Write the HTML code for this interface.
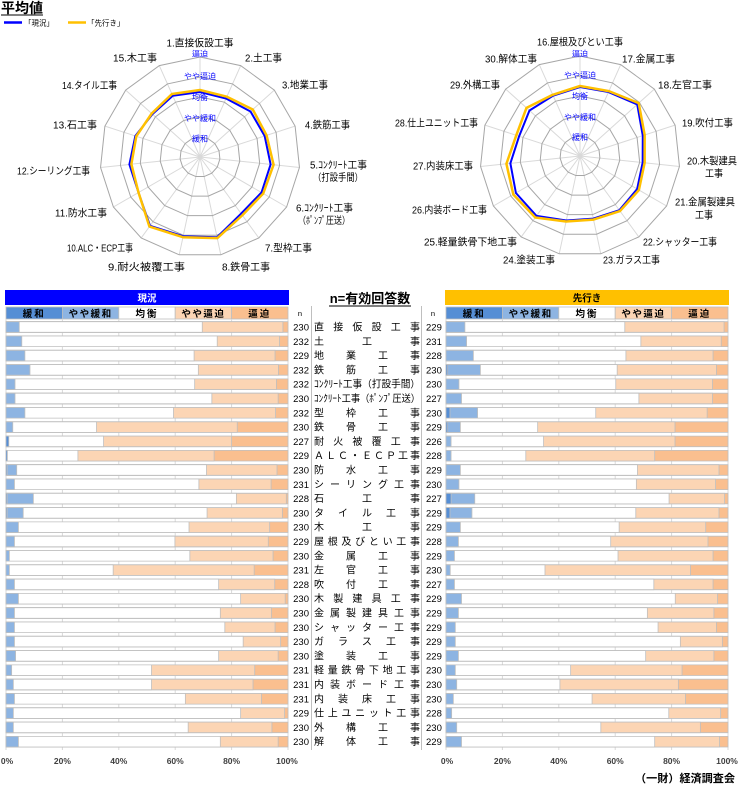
<!DOCTYPE html>
<html><head><meta charset="utf-8"><style>
html,body{margin:0;padding:0;background:#fff;}
svg{display:block;font-family:"Liberation Sans","Noto Sans CJK JP",sans-serif;}
.b rect{stroke:#bfbfbf;stroke-width:0.8;vector-effect:non-scaling-stroke;}
.o{fill:#fabf8f}.lo{fill:#fcd5b4}.w{fill:#fff}.lb{fill:#8db4e2}.dk{fill:#558ed5}
.rl{font-size:10px;fill:#000;}
.gl{font-size:8px;fill:#0000ff;}
.n{font-size:9.5px;fill:#000;}
.lab{font-size:10px;fill:#000;}
.ax{font-size:8.5px;fill:#404040;font-weight:bold;}
.cat{font-size:9.5px;font-weight:bold;fill:#000;}
</style></head><body>
<svg width="740" height="800" viewBox="0 0 740 800" xmlns="http://www.w3.org/2000/svg">
<defs>
<polygon id="ring" points="0,-100 40.67,-91.35 74.31,-66.91 95.11,-30.9 99.45,10.45 86.6,50 58.78,80.9 20.79,97.81 -20.79,97.81 -58.78,80.9 -86.6,50 -99.45,10.45 -95.11,-30.9 -74.31,-66.91 -40.67,-91.35" fill="none" stroke="#a6a6a6" stroke-width="1" vector-effect="non-scaling-stroke"/>
<path id="spk" d="M0,0L0,-100M0,0L40.67,-91.35M0,0L74.31,-66.91M0,0L95.11,-30.9M0,0L99.45,10.45M0,0L86.6,50M0,0L58.78,80.9M0,0L20.79,97.81M0,0L-20.79,97.81M0,0L-58.78,80.9M0,0L-86.6,50M0,0L-99.45,10.45M0,0L-95.11,-30.9M0,0L-74.31,-66.91M0,0L-40.67,-91.35" stroke="#d9d9d9" stroke-width="1" fill="none"/>
</defs>

<!-- title & legend -->
<text x="1" y="13" font-size="14" font-weight="bold" fill="#000">平均値</text>
<line x1="1" y1="15" x2="43" y2="15" stroke="#000" stroke-width="1"/>
<line x1="4" y1="22.5" x2="22" y2="22.5" stroke="#0000ff" stroke-width="2.5"/>
<text x="24" y="25.5" font-size="7.5" fill="#000">「現況」</text>
<line x1="68" y1="22.5" x2="86" y2="22.5" stroke="#ffc000" stroke-width="2.5"/>
<text x="87" y="25.5" font-size="7.5" fill="#000">「先行き」</text>

<!-- left radar -->
<g transform="translate(200,157)">
<use href="#spk"/>
<use href="#ring" transform="scale(0.2)"/><use href="#ring" transform="scale(0.4)"/><use href="#ring" transform="scale(0.6)"/><use href="#ring" transform="scale(0.8)"/><use href="#ring"/>
<text class="gl" x="0" y="-100.5" text-anchor="middle">逼迫</text>
<text class="gl" x="0" y="-78" text-anchor="middle">やや逼迫</text>
<text class="gl" x="0" y="-57" text-anchor="middle">均衡</text>
<text class="gl" x="0" y="-36" text-anchor="middle">やや緩和</text>
<text class="gl" x="0" y="-15.5" text-anchor="middle">緩和</text>
<polygon points="0,-65 26.03,-58.46 50.53,-45.5 64.67,-21.01 70.61,7.42 61.49,35.5 41.15,56.63 17.05,80.2 -16.84,79.23 -49.96,68.77 -61.49,35.5 -70.61,7.42 -64.67,-21.01 -47.56,-42.82 -27.25,-61.2" fill="none" stroke="#0000ff" stroke-width="2" stroke-linejoin="round"/>
<polygon points="0,-67 26.84,-60.29 52.76,-47.51 66.58,-21.63 73.59,7.73 63.22,36.5 42.32,58.25 17.26,81.18 -17.05,80.2 -50.55,69.57 -61.49,35.5 -68.62,7.21 -63.72,-20.7 -48.3,-43.49 -28.06,-63.03" fill="none" stroke="#ffc000" stroke-width="2.5" stroke-linejoin="round"/>
</g>
<text class="rl" x="200" y="46.5" text-anchor="middle" textLength="67" lengthAdjust="spacingAndGlyphs">1.直接仮設工事</text>
<text class="rl" x="245" y="61.5" textLength="37" lengthAdjust="spacingAndGlyphs">2.土工事</text>
<text class="rl" x="157" y="61.5" text-anchor="end" textLength="44" lengthAdjust="spacingAndGlyphs">15.木工事</text>
<text class="rl" x="282" y="88.5" textLength="46" lengthAdjust="spacingAndGlyphs">3.地業工事</text>
<text class="rl" x="117" y="89" text-anchor="end" textLength="55" lengthAdjust="spacingAndGlyphs">14.タイル工事</text>
<text class="rl" x="305" y="128.5" textLength="45" lengthAdjust="spacingAndGlyphs">4.鉄筋工事</text>
<text class="rl" x="97" y="128.5" text-anchor="end" textLength="44" lengthAdjust="spacingAndGlyphs">13.石工事</text>
<text class="rl" x="310" y="168.5" textLength="57" lengthAdjust="spacingAndGlyphs">5.ｺﾝｸﾘｰﾄ工事</text>
<text class="rl" x="313" y="181" textLength="50" lengthAdjust="spacingAndGlyphs">（打設手間）</text>
<text class="rl" x="90" y="174.5" text-anchor="end" textLength="73" lengthAdjust="spacingAndGlyphs">12.シーリング工事</text>
<text class="rl" x="296" y="211.5" textLength="57" lengthAdjust="spacingAndGlyphs">6.ｺﾝｸﾘｰﾄ工事</text>
<text class="rl" x="298" y="224" textLength="52" lengthAdjust="spacingAndGlyphs">（ﾎﾟﾝﾌﾟ圧送）</text>
<text class="rl" x="107" y="216.5" text-anchor="end" textLength="52" lengthAdjust="spacingAndGlyphs">11.防水工事</text>
<text class="rl" x="265" y="251.5" textLength="47" lengthAdjust="spacingAndGlyphs">7.型枠工事</text>
<text class="rl" x="133" y="251.5" text-anchor="end" textLength="66" lengthAdjust="spacingAndGlyphs">10.ALC・ECP工事</text>
<text class="rl" x="222" y="270.5" textLength="48" lengthAdjust="spacingAndGlyphs">8.鉄骨工事</text>
<text class="rl" x="185" y="270.5" text-anchor="end" textLength="77" lengthAdjust="spacingAndGlyphs">9.耐火被覆工事</text>

<!-- right radar -->
<g transform="translate(580,156)">
<use href="#spk"/>
<use href="#ring" transform="scale(0.2)"/><use href="#ring" transform="scale(0.4)"/><use href="#ring" transform="scale(0.6)"/><use href="#ring" transform="scale(0.8)"/><use href="#ring"/>
<text class="gl" x="0" y="-99.5" text-anchor="middle">逼迫</text>
<text class="gl" x="0" y="-78" text-anchor="middle">やや逼迫</text>
<text class="gl" x="0" y="-57" text-anchor="middle">均衡</text>
<text class="gl" x="0" y="-36" text-anchor="middle">やや緩和</text>
<text class="gl" x="0" y="-16" text-anchor="middle">緩和</text>
<polygon points="0,-69 28.47,-63.95 57.22,-51.52 62.77,-20.39 62.65,6.58 57.16,33 39.38,54.2 13.31,62.6 -13.72,64.55 -43.5,59.87 -64.08,37 -69.62,7.32 -60.87,-19.78 -50.53,-45.5 -26.84,-60.29" fill="none" stroke="#0000ff" stroke-width="2" stroke-linejoin="round"/>
<polygon points="0,-70 28.88,-64.86 58.7,-52.86 64.67,-21.01 64.64,6.79 58.89,34 39.97,55.01 13.51,63.58 -13.93,65.53 -44.67,61.48 -66.68,38.5 -73.59,7.73 -63.72,-20.7 -53.5,-48.18 -27.25,-61.2" fill="none" stroke="#ffc000" stroke-width="2.5" stroke-linejoin="round"/>
</g>
<text class="rl" x="580" y="45.5" text-anchor="middle" textLength="86" lengthAdjust="spacingAndGlyphs">16.屋根及びとい工事</text>
<text class="rl" x="622" y="62.5" textLength="53" lengthAdjust="spacingAndGlyphs">17.金属工事</text>
<text class="rl" x="537" y="62.5" text-anchor="end" textLength="52" lengthAdjust="spacingAndGlyphs">30.解体工事</text>
<text class="rl" x="658" y="88.5" textLength="54" lengthAdjust="spacingAndGlyphs">18.左官工事</text>
<text class="rl" x="500" y="88.5" text-anchor="end" textLength="50" lengthAdjust="spacingAndGlyphs">29.外構工事</text>
<text class="rl" x="682" y="126.5" textLength="51" lengthAdjust="spacingAndGlyphs">19.吹付工事</text>
<text class="rl" x="478" y="126.5" text-anchor="end" textLength="83" lengthAdjust="spacingAndGlyphs">28.仕上ユニット工事</text>
<text class="rl" x="687" y="164.5" textLength="50" lengthAdjust="spacingAndGlyphs">20.木製建具</text>
<text class="rl" x="705" y="177" textLength="18" lengthAdjust="spacingAndGlyphs">工事</text>
<text class="rl" x="473" y="169.5" text-anchor="end" textLength="60" lengthAdjust="spacingAndGlyphs">27.内装床工事</text>
<text class="rl" x="675" y="205.5" textLength="60" lengthAdjust="spacingAndGlyphs">21.金属製建具</text>
<text class="rl" x="695" y="218.5" textLength="18" lengthAdjust="spacingAndGlyphs">工事</text>
<text class="rl" x="487" y="213.5" text-anchor="end" textLength="75" lengthAdjust="spacingAndGlyphs">26.内装ボード工事</text>
<text class="rl" x="643" y="245.5" textLength="74" lengthAdjust="spacingAndGlyphs">22.シャッター工事</text>
<text class="rl" x="517" y="245.5" text-anchor="end" textLength="93" lengthAdjust="spacingAndGlyphs">25.軽量鉄骨下地工事</text>
<text class="rl" x="603" y="263.5" textLength="57" lengthAdjust="spacingAndGlyphs">23.ガラス工事</text>
<text class="rl" x="555" y="263.5" text-anchor="end" textLength="52" lengthAdjust="spacingAndGlyphs">24.塗装工事</text>

<!-- bar chart headers -->
<rect x="5" y="290" width="284" height="15" fill="#0000ff"/>
<text x="147" y="301.5" text-anchor="middle" font-size="9.5" font-weight="bold" fill="#fff">現況</text>
<rect x="445" y="290" width="284" height="15" fill="#ffc000"/>
<text x="587" y="301.5" text-anchor="middle" font-size="9.5" font-weight="bold" fill="#000">先行き</text>

<g stroke="#bfbfbf" stroke-width="0.8">
<rect x="6" y="307" width="56.4" height="12" class="dk"/><rect x="62.4" y="307" width="56.4" height="12" class="lb"/><rect x="118.8" y="307" width="56.4" height="12" class="w"/><rect x="175.2" y="307" width="56.4" height="12" class="lo"/><rect x="231.6" y="307" width="56.4" height="12" class="o"/>
<rect x="446" y="307" width="56.4" height="12" class="dk"/><rect x="502.4" y="307" width="56.4" height="12" class="lb"/><rect x="558.8" y="307" width="56.4" height="12" class="w"/><rect x="615.2" y="307" width="56.4" height="12" class="lo"/><rect x="671.6" y="307" width="56.4" height="12" class="o"/>
</g>
<g class="cat" text-anchor="middle">
<text x="34.2" y="316.8" letter-spacing="2">緩和</text><text x="90.6" y="316.8" letter-spacing="1.5">やや緩和</text><text x="147" y="316.8" letter-spacing="2">均衡</text><text x="203.4" y="316.8" letter-spacing="1.5">やや逼迫</text><text x="259.8" y="316.8" letter-spacing="2">逼迫</text>
<text x="474.2" y="316.8" letter-spacing="2">緩和</text><text x="530.6" y="316.8" letter-spacing="1.5">やや緩和</text><text x="587" y="316.8" letter-spacing="2">均衡</text><text x="643.4" y="316.8" letter-spacing="1.5">やや逼迫</text><text x="699.8" y="316.8" letter-spacing="2">逼迫</text>
</g>

<!-- middle header -->
<text x="370" y="303" text-anchor="middle" font-size="13" font-weight="bold" fill="#000">n=有効回答数</text>
<line x1="329" y1="306" x2="411" y2="306" stroke="#000" stroke-width="0.9"/>
<text x="300" y="316" text-anchor="middle" font-size="7.5" fill="#000">n</text>
<text x="433" y="316" text-anchor="middle" font-size="7.5" fill="#000">n</text>
<line x1="311.5" y1="306" x2="311.5" y2="750" stroke="#bfbfbf" stroke-width="1"/>
<line x1="421.5" y1="306" x2="421.5" y2="750" stroke="#bfbfbf" stroke-width="1"/>

<!-- gridlines -->
<g stroke="#d9d9d9" stroke-width="1">
<line x1="6" y1="319" x2="6" y2="750"/><line x1="62.4" y1="319" x2="62.4" y2="750"/><line x1="118.8" y1="319" x2="118.8" y2="750"/><line x1="175.2" y1="319" x2="175.2" y2="750"/><line x1="231.6" y1="319" x2="231.6" y2="750"/><line x1="288" y1="319" x2="288" y2="750"/>
<line x1="446" y1="319" x2="446" y2="750"/><line x1="502.4" y1="319" x2="502.4" y2="750"/><line x1="558.8" y1="319" x2="558.8" y2="750"/><line x1="615.2" y1="319" x2="615.2" y2="750"/><line x1="671.6" y1="319" x2="671.6" y2="750"/><line x1="728" y1="319" x2="728" y2="750"/>
</g>

<!-- rows -->
<g transform="translate(0,321.7)"><g class="b" transform="translate(6,0) scale(2.82,1)"><rect class="o" width="100" height="10.6"/><rect class="lo" width="98.2" height="10.6"/><rect class="w" width="69.6" height="10.6"/><rect class="lb" width="4.7" height="10.6"/></g><g class="b" transform="translate(446,0) scale(2.82,1)"><rect class="o" width="100" height="10.6"/><rect class="lo" width="98.6" height="10.6"/><rect class="w" width="63.4" height="10.6"/><rect class="lb" width="6.7" height="10.6"/></g><text class="n" x="309" y="8.8" text-anchor="end">230</text><text class="lab" x="314" y="8.8" textLength="106" lengthAdjust="spacing">直接仮設工事</text><text class="n" x="426" y="8.8">229</text></g>

<g transform="translate(0,336)"><g class="b" transform="translate(6,0) scale(2.82,1)"><rect class="o" width="100" height="10.6"/><rect class="lo" width="97" height="10.6"/><rect class="w" width="74.9" height="10.6"/><rect class="lb" width="5.6" height="10.6"/></g><g class="b" transform="translate(446,0) scale(2.82,1)"><rect class="o" width="100" height="10.6"/><rect class="lo" width="97.6" height="10.6"/><rect class="w" width="69.1" height="10.6"/><rect class="lb" width="7.3" height="10.6"/></g><text class="n" x="309" y="8.8" text-anchor="end">232</text><text class="lab" x="314" y="8.8" textLength="106" lengthAdjust="spacing">土工事</text><text class="n" x="426" y="8.8">231</text></g>

<g transform="translate(0,350.3)"><g class="b" transform="translate(6,0) scale(2.82,1)"><rect class="o" width="100" height="10.6"/><rect class="lo" width="95.4" height="10.6"/><rect class="w" width="66.7" height="10.6"/><rect class="lb" width="6.7" height="10.6"/></g><g class="b" transform="translate(446,0) scale(2.82,1)"><rect class="o" width="100" height="10.6"/><rect class="lo" width="94.7" height="10.6"/><rect class="w" width="63.8" height="10.6"/><rect class="lb" width="9.7" height="10.6"/></g><text class="n" x="309" y="8.8" text-anchor="end">229</text><text class="lab" x="314" y="8.8" textLength="106" lengthAdjust="spacing">地業工事</text><text class="n" x="426" y="8.8">228</text></g>

<g transform="translate(0,364.6)"><g class="b" transform="translate(6,0) scale(2.82,1)"><rect class="o" width="100" height="10.6"/><rect class="lo" width="96.6" height="10.6"/><rect class="w" width="68.2" height="10.6"/><rect class="lb" width="8.5" height="10.6"/></g><g class="b" transform="translate(446,0) scale(2.82,1)"><rect class="o" width="100" height="10.6"/><rect class="lo" width="95.9" height="10.6"/><rect class="w" width="60.7" height="10.6"/><rect class="lb" width="12.2" height="10.6"/><rect class="dk" width="0.6" height="10.6"/></g><text class="n" x="309" y="8.8" text-anchor="end">232</text><text class="lab" x="314" y="8.8" textLength="106" lengthAdjust="spacing">鉄筋工事</text><text class="n" x="426" y="8.8">230</text></g>

<g transform="translate(0,378.9)"><g class="b" transform="translate(6,0) scale(2.82,1)"><rect class="o" width="100" height="10.6"/><rect class="lo" width="95.9" height="10.6"/><rect class="w" width="66.9" height="10.6"/><rect class="lb" width="3.2" height="10.6"/></g><g class="b" transform="translate(446,0) scale(2.82,1)"><rect class="o" width="100" height="10.6"/><rect class="lo" width="94.5" height="10.6"/><rect class="w" width="60.2" height="10.6"/><rect class="lb" width="4.6" height="10.6"/></g><text class="n" x="309" y="8.8" text-anchor="end">232</text><text class="lab" x="314" y="8.8" textLength="106" lengthAdjust="spacingAndGlyphs">ｺﾝｸﾘｰﾄ工事（打設手間）</text><text class="n" x="426" y="8.8">230</text></g>

<g transform="translate(0,393.2)"><g class="b" transform="translate(6,0) scale(2.82,1)"><rect class="o" width="100" height="10.6"/><rect class="lo" width="96.5" height="10.6"/><rect class="w" width="73" height="10.6"/><rect class="lb" width="3.2" height="10.6"/></g><g class="b" transform="translate(446,0) scale(2.82,1)"><rect class="o" width="100" height="10.6"/><rect class="lo" width="94.5" height="10.6"/><rect class="w" width="68.4" height="10.6"/><rect class="lb" width="5.5" height="10.6"/></g><text class="n" x="309" y="8.8" text-anchor="end">230</text><text class="lab" x="314" y="8.8" textLength="106" lengthAdjust="spacingAndGlyphs">ｺﾝｸﾘｰﾄ工事（ﾎﾟﾝﾌﾟ圧送）</text><text class="n" x="426" y="8.8">227</text></g>

<g transform="translate(0,407.5)"><g class="b" transform="translate(6,0) scale(2.82,1)"><rect class="o" width="100" height="10.6"/><rect class="lo" width="95.6" height="10.6"/><rect class="w" width="59.4" height="10.6"/><rect class="lb" width="6.7" height="10.6"/></g><g class="b" transform="translate(446,0) scale(2.82,1)"><rect class="o" width="100" height="10.6"/><rect class="lo" width="92.6" height="10.6"/><rect class="w" width="53.1" height="10.6"/><rect class="lb" width="11.2" height="10.6"/><rect class="dk" width="1.4" height="10.6"/></g><text class="n" x="309" y="8.8" text-anchor="end">232</text><text class="lab" x="314" y="8.8" textLength="106" lengthAdjust="spacing">型枠工事</text><text class="n" x="426" y="8.8">230</text></g>

<g transform="translate(0,421.8)"><g class="b" transform="translate(6,0) scale(2.82,1)"><rect class="o" width="100" height="10.6"/><rect class="lo" width="82" height="10.6"/><rect class="w" width="32.1" height="10.6"/><rect class="lb" width="2.4" height="10.6"/></g><g class="b" transform="translate(446,0) scale(2.82,1)"><rect class="o" width="100" height="10.6"/><rect class="lo" width="81.2" height="10.6"/><rect class="w" width="32.5" height="10.6"/><rect class="lb" width="5.1" height="10.6"/><rect class="dk" width="0.6" height="10.6"/></g><text class="n" x="309" y="8.8" text-anchor="end">230</text><text class="lab" x="314" y="8.8" textLength="106" lengthAdjust="spacing">鉄骨工事</text><text class="n" x="426" y="8.8">229</text></g>

<g transform="translate(0,436.1)"><g class="b" transform="translate(6,0) scale(2.82,1)"><rect class="o" width="100" height="10.6"/><rect class="lo" width="80" height="10.6"/><rect class="w" width="34.6" height="10.6"/><rect class="dk" width="1" height="10.6"/></g><g class="b" transform="translate(446,0) scale(2.82,1)"><rect class="o" width="100" height="10.6"/><rect class="lo" width="81.2" height="10.6"/><rect class="w" width="34.6" height="10.6"/><rect class="lb" width="1.8" height="10.6"/></g><text class="n" x="309" y="8.8" text-anchor="end">227</text><text class="lab" x="314" y="8.8" textLength="106" lengthAdjust="spacing">耐火被覆工事</text><text class="n" x="426" y="8.8">226</text></g>

<g transform="translate(0,450.4)"><g class="b" transform="translate(6,0) scale(2.82,1)"><rect class="o" width="100" height="10.6"/><rect class="lo" width="73.8" height="10.6"/><rect class="w" width="25.5" height="10.6"/><rect class="dk" width="0.5" height="10.6"/></g><g class="b" transform="translate(446,0) scale(2.82,1)"><rect class="o" width="100" height="10.6"/><rect class="lo" width="74" height="10.6"/><rect class="w" width="28.3" height="10.6"/><rect class="lb" width="1.8" height="10.6"/></g><text class="n" x="309" y="8.8" text-anchor="end">229</text><text class="lab" x="314" y="8.8" textLength="106" lengthAdjust="spacing">ＡＬＣ・ＥＣＰ工事</text><text class="n" x="426" y="8.8">228</text></g>

<g transform="translate(0,464.7)"><g class="b" transform="translate(6,0) scale(2.82,1)"><rect class="o" width="100" height="10.6"/><rect class="lo" width="96.1" height="10.6"/><rect class="w" width="71.1" height="10.6"/><rect class="lb" width="3.8" height="10.6"/><rect class="dk" width="0.4" height="10.6"/></g><g class="b" transform="translate(446,0) scale(2.82,1)"><rect class="o" width="100" height="10.6"/><rect class="lo" width="96.8" height="10.6"/><rect class="w" width="67.9" height="10.6"/><rect class="lb" width="5.1" height="10.6"/></g><text class="n" x="309" y="8.8" text-anchor="end">230</text><text class="lab" x="314" y="8.8" textLength="106" lengthAdjust="spacing">防水工事</text><text class="n" x="426" y="8.8">229</text></g>

<g transform="translate(0,479)"><g class="b" transform="translate(6,0) scale(2.82,1)"><rect class="o" width="100" height="10.6"/><rect class="lo" width="94" height="10.6"/><rect class="w" width="68.4" height="10.6"/><rect class="lb" width="3" height="10.6"/></g><g class="b" transform="translate(446,0) scale(2.82,1)"><rect class="o" width="100" height="10.6"/><rect class="lo" width="95.6" height="10.6"/><rect class="w" width="67.5" height="10.6"/><rect class="lb" width="4.6" height="10.6"/></g><text class="n" x="309" y="8.8" text-anchor="end">231</text><text class="lab" x="314" y="8.8" textLength="106" lengthAdjust="spacing">シーリング工事</text><text class="n" x="426" y="8.8">230</text></g>

<g transform="translate(0,493.3)"><g class="b" transform="translate(6,0) scale(2.82,1)"><rect class="o" width="100" height="10.6"/><rect class="lo" width="99.4" height="10.6"/><rect class="w" width="81.7" height="10.6"/><rect class="lb" width="9.7" height="10.6"/><rect class="dk" width="0.4" height="10.6"/></g><g class="b" transform="translate(446,0) scale(2.82,1)"><rect class="o" width="100" height="10.6"/><rect class="lo" width="98.8" height="10.6"/><rect class="w" width="79.1" height="10.6"/><rect class="lb" width="10.2" height="10.6"/><rect class="dk" width="1.8" height="10.6"/></g><text class="n" x="309" y="8.8" text-anchor="end">228</text><text class="lab" x="314" y="8.8" textLength="106" lengthAdjust="spacing">石工事</text><text class="n" x="426" y="8.8">227</text></g>

<g transform="translate(0,507.6)"><g class="b" transform="translate(6,0) scale(2.82,1)"><rect class="o" width="100" height="10.6"/><rect class="lo" width="98" height="10.6"/><rect class="w" width="71.3" height="10.6"/><rect class="lb" width="6.1" height="10.6"/><rect class="dk" width="0.4" height="10.6"/></g><g class="b" transform="translate(446,0) scale(2.82,1)"><rect class="o" width="100" height="10.6"/><rect class="lo" width="96.8" height="10.6"/><rect class="w" width="67.3" height="10.6"/><rect class="lb" width="9.2" height="10.6"/><rect class="dk" width="1.4" height="10.6"/></g><text class="n" x="309" y="8.8" text-anchor="end">230</text><text class="lab" x="314" y="8.8" textLength="106" lengthAdjust="spacing">タイル工事</text><text class="n" x="426" y="8.8">229</text></g>

<g transform="translate(0,521.9)"><g class="b" transform="translate(6,0) scale(2.82,1)"><rect class="o" width="100" height="10.6"/><rect class="lo" width="93.5" height="10.6"/><rect class="w" width="64.9" height="10.6"/><rect class="lb" width="4.4" height="10.6"/></g><g class="b" transform="translate(446,0) scale(2.82,1)"><rect class="o" width="100" height="10.6"/><rect class="lo" width="92.1" height="10.6"/><rect class="w" width="61.4" height="10.6"/><rect class="lb" width="5.1" height="10.6"/></g><text class="n" x="309" y="8.8" text-anchor="end">230</text><text class="lab" x="314" y="8.8" textLength="106" lengthAdjust="spacing">木工事</text><text class="n" x="426" y="8.8">229</text></g>

<g transform="translate(0,536.2)"><g class="b" transform="translate(6,0) scale(2.82,1)"><rect class="o" width="100" height="10.6"/><rect class="lo" width="93" height="10.6"/><rect class="w" width="59.9" height="10.6"/><rect class="lb" width="3" height="10.6"/></g><g class="b" transform="translate(446,0) scale(2.82,1)"><rect class="o" width="100" height="10.6"/><rect class="lo" width="92.9" height="10.6"/><rect class="w" width="58.4" height="10.6"/><rect class="lb" width="4.4" height="10.6"/></g><text class="n" x="309" y="8.8" text-anchor="end">229</text><text class="lab" x="314" y="8.8" textLength="106" lengthAdjust="spacing">屋根及びとい工事</text><text class="n" x="426" y="8.8">228</text></g>

<g transform="translate(0,550.5)"><g class="b" transform="translate(6,0) scale(2.82,1)"><rect class="o" width="100" height="10.6"/><rect class="lo" width="94.7" height="10.6"/><rect class="w" width="65.2" height="10.6"/><rect class="lb" width="1.2" height="10.6"/></g><g class="b" transform="translate(446,0) scale(2.82,1)"><rect class="o" width="100" height="10.6"/><rect class="lo" width="94.7" height="10.6"/><rect class="w" width="61" height="10.6"/><rect class="lb" width="3" height="10.6"/></g><text class="n" x="309" y="8.8" text-anchor="end">230</text><text class="lab" x="314" y="8.8" textLength="106" lengthAdjust="spacing">金属工事</text><text class="n" x="426" y="8.8">229</text></g>

<g transform="translate(0,564.8)"><g class="b" transform="translate(6,0) scale(2.82,1)"><rect class="o" width="100" height="10.6"/><rect class="lo" width="88" height="10.6"/><rect class="w" width="38" height="10.6"/><rect class="lb" width="1.2" height="10.6"/></g><g class="b" transform="translate(446,0) scale(2.82,1)"><rect class="o" width="100" height="10.6"/><rect class="lo" width="86.7" height="10.6"/><rect class="w" width="35.1" height="10.6"/><rect class="lb" width="1.5" height="10.6"/></g><text class="n" x="309" y="8.8" text-anchor="end">231</text><text class="lab" x="314" y="8.8" textLength="106" lengthAdjust="spacing">左官工事</text><text class="n" x="426" y="8.8">230</text></g>

<g transform="translate(0,579.1)"><g class="b" transform="translate(6,0) scale(2.82,1)"><rect class="o" width="100" height="10.6"/><rect class="lo" width="95.3" height="10.6"/><rect class="w" width="75.4" height="10.6"/><rect class="lb" width="3" height="10.6"/></g><g class="b" transform="translate(446,0) scale(2.82,1)"><rect class="o" width="100" height="10.6"/><rect class="lo" width="94.7" height="10.6"/><rect class="w" width="73.7" height="10.6"/><rect class="lb" width="3" height="10.6"/></g><text class="n" x="309" y="8.8" text-anchor="end">228</text><text class="lab" x="314" y="8.8" textLength="106" lengthAdjust="spacing">吹付工事</text><text class="n" x="426" y="8.8">227</text></g>

<g transform="translate(0,593.4)"><g class="b" transform="translate(6,0) scale(2.82,1)"><rect class="o" width="100" height="10.6"/><rect class="lo" width="99" height="10.6"/><rect class="w" width="83.2" height="10.6"/><rect class="lb" width="4.4" height="10.6"/></g><g class="b" transform="translate(446,0) scale(2.82,1)"><rect class="o" width="100" height="10.6"/><rect class="lo" width="96.3" height="10.6"/><rect class="w" width="81.3" height="10.6"/><rect class="lb" width="5.5" height="10.6"/></g><text class="n" x="309" y="8.8" text-anchor="end">230</text><text class="lab" x="314" y="8.8" textLength="106" lengthAdjust="spacing">木製建具工事</text><text class="n" x="426" y="8.8">229</text></g>

<g transform="translate(0,607.7)"><g class="b" transform="translate(6,0) scale(2.82,1)"><rect class="o" width="100" height="10.6"/><rect class="lo" width="94.1" height="10.6"/><rect class="w" width="76" height="10.6"/><rect class="lb" width="3" height="10.6"/></g><g class="b" transform="translate(446,0) scale(2.82,1)"><rect class="o" width="100" height="10.6"/><rect class="lo" width="95" height="10.6"/><rect class="w" width="71.4" height="10.6"/><rect class="lb" width="4.4" height="10.6"/></g><text class="n" x="309" y="8.8" text-anchor="end">230</text><text class="lab" x="314" y="8.8" textLength="106" lengthAdjust="spacing">金属製建具工事</text><text class="n" x="426" y="8.8">229</text></g>

<g transform="translate(0,622)"><g class="b" transform="translate(6,0) scale(2.82,1)"><rect class="o" width="100" height="10.6"/><rect class="lo" width="95.4" height="10.6"/><rect class="w" width="77.6" height="10.6"/><rect class="lb" width="3" height="10.6"/></g><g class="b" transform="translate(446,0) scale(2.82,1)"><rect class="o" width="100" height="10.6"/><rect class="lo" width="95.9" height="10.6"/><rect class="w" width="75.2" height="10.6"/><rect class="lb" width="3.3" height="10.6"/></g><text class="n" x="309" y="8.8" text-anchor="end">230</text><text class="lab" x="314" y="8.8" textLength="106" lengthAdjust="spacing">シャッター工事</text><text class="n" x="426" y="8.8">229</text></g>

<g transform="translate(0,636.3)"><g class="b" transform="translate(6,0) scale(2.82,1)"><rect class="o" width="100" height="10.6"/><rect class="lo" width="97.4" height="10.6"/><rect class="w" width="84.1" height="10.6"/><rect class="lb" width="3" height="10.6"/></g><g class="b" transform="translate(446,0) scale(2.82,1)"><rect class="o" width="100" height="10.6"/><rect class="lo" width="98" height="10.6"/><rect class="w" width="83.1" height="10.6"/><rect class="lb" width="3.3" height="10.6"/></g><text class="n" x="309" y="8.8" text-anchor="end">230</text><text class="lab" x="314" y="8.8" textLength="106" lengthAdjust="spacing">ガラス工事</text><text class="n" x="426" y="8.8">229</text></g>

<g transform="translate(0,650.6)"><g class="b" transform="translate(6,0) scale(2.82,1)"><rect class="o" width="100" height="10.6"/><rect class="lo" width="96.5" height="10.6"/><rect class="w" width="75.4" height="10.6"/><rect class="lb" width="3.4" height="10.6"/></g><g class="b" transform="translate(446,0) scale(2.82,1)"><rect class="o" width="100" height="10.6"/><rect class="lo" width="95" height="10.6"/><rect class="w" width="70.8" height="10.6"/><rect class="lb" width="4.4" height="10.6"/></g><text class="n" x="309" y="8.8" text-anchor="end">230</text><text class="lab" x="314" y="8.8" textLength="106" lengthAdjust="spacing">塗装工事</text><text class="n" x="426" y="8.8">229</text></g>

<g transform="translate(0,664.9)"><g class="b" transform="translate(6,0) scale(2.82,1)"><rect class="o" width="100" height="10.6"/><rect class="lo" width="88.2" height="10.6"/><rect class="w" width="51.6" height="10.6"/><rect class="lb" width="2" height="10.6"/></g><g class="b" transform="translate(446,0) scale(2.82,1)"><rect class="o" width="100" height="10.6"/><rect class="lo" width="83.7" height="10.6"/><rect class="w" width="44.2" height="10.6"/><rect class="lb" width="3.3" height="10.6"/></g><text class="n" x="309" y="8.8" text-anchor="end">231</text><text class="lab" x="314" y="8.8" textLength="106" lengthAdjust="spacing">軽量鉄骨下地工事</text><text class="n" x="426" y="8.8">230</text></g>

<g transform="translate(0,679.2)"><g class="b" transform="translate(6,0) scale(2.82,1)"><rect class="o" width="100" height="10.6"/><rect class="lo" width="87.6" height="10.6"/><rect class="w" width="51.6" height="10.6"/><rect class="lb" width="2.6" height="10.6"/></g><g class="b" transform="translate(446,0) scale(2.82,1)"><rect class="o" width="100" height="10.6"/><rect class="lo" width="82.4" height="10.6"/><rect class="w" width="40.4" height="10.6"/><rect class="lb" width="3.8" height="10.6"/></g><text class="n" x="309" y="8.8" text-anchor="end">231</text><text class="lab" x="314" y="8.8" textLength="106" lengthAdjust="spacing">内装ボード工事</text><text class="n" x="426" y="8.8">230</text></g>

<g transform="translate(0,693.5)"><g class="b" transform="translate(6,0) scale(2.82,1)"><rect class="o" width="100" height="10.6"/><rect class="lo" width="90.6" height="10.6"/><rect class="w" width="63.6" height="10.6"/><rect class="lb" width="3" height="10.6"/></g><g class="b" transform="translate(446,0) scale(2.82,1)"><rect class="o" width="100" height="10.6"/><rect class="lo" width="84.9" height="10.6"/><rect class="w" width="51.8" height="10.6"/><rect class="lb" width="2.6" height="10.6"/></g><text class="n" x="309" y="8.8" text-anchor="end">231</text><text class="lab" x="314" y="8.8" textLength="106" lengthAdjust="spacing">内装床工事</text><text class="n" x="426" y="8.8">230</text></g>

<g transform="translate(0,707.8)"><g class="b" transform="translate(6,0) scale(2.82,1)"><rect class="o" width="100" height="10.6"/><rect class="lo" width="98.8" height="10.6"/><rect class="w" width="83.2" height="10.6"/><rect class="lb" width="2.6" height="10.6"/></g><g class="b" transform="translate(446,0) scale(2.82,1)"><rect class="o" width="100" height="10.6"/><rect class="lo" width="97.4" height="10.6"/><rect class="w" width="79" height="10.6"/><rect class="lb" width="2" height="10.6"/></g><text class="n" x="309" y="8.8" text-anchor="end">229</text><text class="lab" x="314" y="8.8" textLength="106" lengthAdjust="spacing">仕上ユニット工事</text><text class="n" x="426" y="8.8">228</text></g>

<g transform="translate(0,722.1)"><g class="b" transform="translate(6,0) scale(2.82,1)"><rect class="o" width="100" height="10.6"/><rect class="lo" width="94.3" height="10.6"/><rect class="w" width="64.6" height="10.6"/><rect class="lb" width="2.6" height="10.6"/></g><g class="b" transform="translate(446,0) scale(2.82,1)"><rect class="o" width="100" height="10.6"/><rect class="lo" width="90.2" height="10.6"/><rect class="w" width="54.9" height="10.6"/><rect class="lb" width="3.8" height="10.6"/></g><text class="n" x="309" y="8.8" text-anchor="end">230</text><text class="lab" x="314" y="8.8" textLength="106" lengthAdjust="spacing">外構工事</text><text class="n" x="426" y="8.8">230</text></g>

<g transform="translate(0,736.4)"><g class="b" transform="translate(6,0) scale(2.82,1)"><rect class="o" width="100" height="10.6"/><rect class="lo" width="96.5" height="10.6"/><rect class="w" width="76" height="10.6"/><rect class="lb" width="4.4" height="10.6"/></g><g class="b" transform="translate(446,0) scale(2.82,1)"><rect class="o" width="100" height="10.6"/><rect class="lo" width="97" height="10.6"/><rect class="w" width="74" height="10.6"/><rect class="lb" width="5.5" height="10.6"/></g><text class="n" x="309" y="8.8" text-anchor="end">230</text><text class="lab" x="314" y="8.8" textLength="106" lengthAdjust="spacing">解体工事</text><text class="n" x="426" y="8.8">229</text></g>

<!-- axis labels -->
<g class="ax" text-anchor="middle">
<text x="7" y="764">0%</text><text x="62.4" y="764">20%</text><text x="118.8" y="764">40%</text><text x="175.2" y="764">60%</text><text x="231.6" y="764">80%</text><text x="287" y="764">100%</text>
<text x="447" y="764">0%</text><text x="502.4" y="764">20%</text><text x="558.8" y="764">40%</text><text x="615.2" y="764">60%</text><text x="671.6" y="764">80%</text><text x="727" y="764">100%</text>
</g>
<text x="635" y="782" font-size="11" font-weight="bold" fill="#000" textLength="100" lengthAdjust="spacingAndGlyphs">（一財）経済調査会</text>
</svg>
</body></html>
